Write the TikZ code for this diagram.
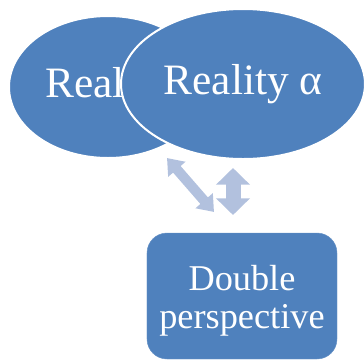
\documentclass[tikz,border=0pt]{standalone}
\usepackage{fontspec}
\setmainfont{Liberation Serif}
\usetikzlibrary{
  arrows.meta,
  shapes.geometric,
  positioning
}
\definecolor{realityBlue}{HTML}{4F81BD}
\definecolor{linkBlue}{HTML}{B2C1DE}
\tikzset{
  realityOval/.style={
    ellipse,
    draw=white,
    line width=0.06cm,
    fill=realityBlue,
    text=white,
    inner sep=0pt,
    font=\fontsize{37}{40}\selectfont
  },
  perspectiveBox/.style={
    rectangle,
    rounded corners=0.6cm,
    fill=realityBlue,
    draw=realityBlue!85!white,
    text=white,
    align=center,
    minimum width=5.7cm,
    minimum height=3.78cm,
    text height=60pt,
    text depth=4pt,
    font=\fontsize{31}{33}\selectfont
  },
  thinLink/.style={
    linkBlue, line width=0.3cm,
    {Triangle[width=0.66cm, length=0.45cm]}-{Triangle[width=0.66cm, length=0.45cm]}
  },
  wideLink/.style={
    linkBlue, line width=0.45cm,
    {Triangle[width=0.99cm, length=0.5cm]}-{Triangle[width=0.99cm, length=0.5cm]}
  }
}

\begin{document}
\begin{tikzpicture}[x=0.03cm,y=-0.03cm]
  \useasboundingbox (0,0) rectangle (364,360);
  \node[realityOval, minimum width=5.94cm, minimum height=4.26cm] (reality) at (108,87) {Reality};
  \node[realityOval, minimum width=7.32cm, minimum height=4.5cm] (realityAlpha) at (243,84) {Reality α};

  \node[perspectiveBox] (double) at (242,296) {Double\\perspective};

  % links between the two realities and the box
  \coordinate (diagTop) at (167,158);
  \coordinate (diagBottom) at (214,212);
  \coordinate (vertTop) at (233,168);
  \coordinate (vertBottom) at (233,215);
  \draw[thinLink] (diagTop) -- (diagBottom);
  \draw[wideLink] (vertTop) -- (vertBottom);
\end{tikzpicture}
\end{document}
